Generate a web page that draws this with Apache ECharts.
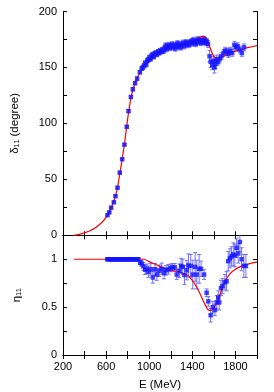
<!DOCTYPE html>
<html><head><meta charset="utf-8">
<script src="https://cdn.jsdelivr.net/npm/echarts@6/dist/echarts.min.js"></script>
<style>html,body{margin:0;padding:0;background:#fff}#c{width:274px;height:392px}</style>
</head><body><div id="c"></div>
<script>
// ---- data ----
const deltaE = [613,629,647,672,687,706,727,749,770,792,808,830,848,869,888,913,930,941,952,962,972,982,992,1002,1012,1022,1032,1042,1052,1062,1072,1082,1092,1102,1112,1122,1132,1142,1152,1162,1172,1182,1192,1202,1212,1222,1232,1242,1252,1262,1272,1282,1292,1302,1312,1322,1332,1342,1352,1362,1372,1382,1392,1402,1412,1422,1432,1442,1452,1462,1472,1482,1492,1502,1512,1522,1532,1545,1560,1570,1585,1595,1605,1615,1625,1640,1655,1670,1690,1705,1720,1735,1750,1770,1790,1805,1820,1840,1860,1880];
const deltaVal = [18,20.5,24.7,29.5,35,42.5,56,68,81,97,111,123.6,130.5,136,140,145.7,149,150,151.5,154,152.5,156,157,159,157.5,160.5,161.5,159.5,162.5,163,161.5,164,163,165,164,166,164.5,167,169.5,166.5,168.5,170,167.5,169,170.5,168,170,167,169.5,171.5,168.5,170.5,168,170,172,169,171,172.5,170,171.5,170.5,172.5,173.5,171.5,174.5,172.5,171,173.5,175,172.5,174,172,174.5,173,175,172,173.5,171,160,155,152,156,150,153,157,155,158,160,163,165,164,162,165,163,170,168,169,166,163,168];
const deltaErr = [0.8,0.8,0.8,0.8,0.8,0.8,0.8,0.8,0.8,1,1.2,1.2,1.5,1.5,1.5,1.5,1.5,2,2,2,2,2,2,2,2,2,2,2,2,2,2,2,2,2,2,2,2,2.5,2.5,2.5,2.5,2.5,2.5,2.5,2.5,2.5,2.5,2.5,2.5,2.5,2.5,2.5,2.5,2.5,2.5,2.5,2.5,2.5,2.5,2.5,2.5,2.5,2.5,2.5,2.5,2.5,2.5,2.5,2.5,2.5,2.5,2.5,2.5,2.5,2.5,2.5,2.5,3,5,5,4,4,5,4,4,3,3,3,3,3,3,3,3,3,3,3,3,3,3,3];

const etaE = [610,620,630,640,650,660,670,680,690,700,710,720,730,740,750,760,770,780,790,800,810,820,830,840,850,860,870,880,890,900,916,929,946,962,977,993,1015,1033,1054,1070,1094,1116,1138,1157,1178,1200,1218,1237,1255,1280,1296,1311,1327,1349,1364,1385,1404,1426,1441,1463,1481,1509,1533,1548,1570,1589,1610,1626,1641,1650,1666,1681,1703,1718,1733,1749,1764,1780,1795,1811,1826,1841,1857,1878,1897];
const etaVal = [1,1,1,1,1,1,1,1,1,1,1,1,1,1,1,1,1,1,1,1,1,1,1,1,1,1,1,1,1,1,0.965,0.955,0.925,0.89,0.9,0.87,0.895,0.81,0.895,0.84,0.88,0.9,0.855,0.885,0.895,0.91,0.915,0.915,0.84,0.88,0.93,0.92,0.835,0.885,0.935,0.93,0.84,0.92,0.84,0.9,0.9,0.84,0.65,0.56,0.415,0.5,0.47,0.55,0.6,0.55,0.7,0.72,0.76,0.77,0.98,1.01,1.03,1.05,1.04,1.12,1.06,1.18,1.0,0.93,0.93];
const etaErr = [0,0,0,0,0,0,0,0,0,0,0,0,0,0,0,0,0,0,0,0,0,0,0,0,0,0,0,0,0,0,0.02,0.03,0.04,0.05,0.05,0.06,0.06,0.06,0.06,0.06,0.06,0.06,0.06,0.05,0.05,0.04,0.04,0.04,0.05,0.07,0.08,0.08,0.1,0.1,0.12,0.12,0.15,0.15,0.15,0.15,0.08,0.05,0.04,0.05,0.07,0.06,0.06,0.07,0.07,0.08,0.08,0.08,0.08,0.1,0.1,0.1,0.1,0.12,0.12,0.1,0.1,0.1,0.12,0.12,0.12];

const fitE = [300,350,400,450,500,550,600,650,700,725,750,775,800,825,850,875,900,950,1000,1050,1100,1150,1200,1250,1300,1350,1400,1450,1480,1500,1520,1540,1560,1580,1600,1620,1650,1700,1750,1800,1850,1900,1950,2000];
const deltaFit = [0,0.8,2.3,4,6.7,10.5,16,25,40,54,68.5,85,104,120,130.5,137.5,143,150.5,155.5,159.5,162.5,165,167,168.5,170,171.5,173.5,176,177.5,178,177,174,169,163.5,160,158.5,158.5,160.5,162.5,164.5,166,167.5,168.5,169.5];
const etaFitE = [300,900,950,1000,1050,1100,1150,1200,1250,1300,1350,1400,1450,1500,1530,1550,1570,1590,1620,1650,1700,1750,1800,1850,1900,1950,2000];
const etaFit = [1,1,1,0.975,0.95,0.925,0.9,0.885,0.875,0.86,0.835,0.78,0.69,0.57,0.5,0.47,0.465,0.48,0.53,0.61,0.76,0.85,0.895,0.925,0.945,0.96,0.97];

const xTicks = [200,600,1000,1400,1800];
const deltaTicks = [0,50,100,150,200];
const etaTicks = [0,0.5,1];

// ---- chart ----
const FONT = 'Liberation Sans, Arial, sans-serif';
const chart = echarts.init(document.getElementById('c'));
const zip = (a,b,c) => a.map((v,i)=> c ? [v,b[i],c[i]] : [v,b[i]]);
const axLine = {show:true, lineStyle:{color:'#000', width:1}};
const tick = {show:true, inside:true, length:4, lineStyle:{color:'#000'}};
function xa(grid, pos, labels){
  return {type:'value', gridIndex:grid, position:pos, min:200, max:2000, interval:200,
    axisLine:axLine, axisTick:tick, splitLine:{show:false},
    axisLabel:{show:labels, color:'#000', fontSize:11, fontFamily:FONT, margin:6,
      formatter:v=> xTicks.includes(v)? String(v):''},
    name: labels ? 'E (MeV)' : '', nameLocation:'middle', nameGap:24,
    nameTextStyle:{color:'#000', fontSize:11.5, fontFamily:FONT}};
}
function ya(grid, pos, min, max, itv, ticks, name, gap){
  return {type:'value', gridIndex:grid, position:pos, min:min, max:max, interval:itv,
    axisLine:axLine, axisTick:tick, splitLine:{show:false},
    axisLabel:{show:!!name, color:'#000', fontSize:11, fontFamily:FONT, margin:6,
      formatter:v=> ticks.some(t=>Math.abs(t-v)<1e-9)? String(v):''},
    name: name||'', nameLocation:'middle', nameGap: gap||0, nameRotate:90,
    nameTextStyle:{color:'#000', fontSize:11.5, fontFamily:FONT}};
}
function errBars(xi, yi, data){
  return {type:'custom', xAxisIndex:xi, yAxisIndex:yi, clip:true, z:2,
    renderItem:(params, api)=>{
      const x=api.value(0), y=api.value(1), e=api.value(2);
      if(!e) return null;
      const lo=api.coord([x,y-e]), hi=api.coord([x,y+e]);
      const st={stroke:'#7070ff', lineWidth:1};
      return {type:'group', children:[
        {type:'line', shape:{x1:lo[0],y1:lo[1],x2:hi[0],y2:hi[1]}, style:st},
        {type:'line', shape:{x1:lo[0]-2,y1:lo[1],x2:lo[0]+2,y2:lo[1]}, style:st},
        {type:'line', shape:{x1:hi[0]-2,y1:hi[1],x2:hi[0]+2,y2:hi[1]}, style:st}
      ]};
    },
    encode:{x:0, y:1}, data:data};
}
chart.setOption({
  animation:false,
  grid:[{left:63, right:17, top:11.5, height:223.8},
        {left:63, right:17, top:235.3, height:122}],
  xAxis:[xa(0,'bottom',false), xa(0,'top',false), xa(1,'bottom',true), xa(1,'top',false)],
  yAxis:[ya(0,'left',0,200,25,deltaTicks,'δ₁₁ (degree)',42), ya(0,'right',0,200,25,deltaTicks,null),
         ya(1,'left',0,1.25,0.25,etaTicks,'η₁₁',40), ya(1,'right',0,1.25,0.25,etaTicks,null)],
  series:[
    {type:'line', xAxisIndex:0, yAxisIndex:0, data:zip(fitE,deltaFit), smooth:0.3, showSymbol:false, z:3,
     lineStyle:{color:'#ff0000', width:1.2}},
    errBars(0,0,zip(deltaE,deltaVal,deltaErr)),
    {type:'scatter', xAxisIndex:0, yAxisIndex:0, data:zip(deltaE,deltaVal), symbol:'rect', symbolSize:4.5, z:4,
     itemStyle:{color:'#1414ff'}},
    {type:'line', xAxisIndex:2, yAxisIndex:2, data:zip(etaFitE,etaFit), smooth:0.3, showSymbol:false, z:3,
     lineStyle:{color:'#ff0000', width:1.2}},
    errBars(2,2,zip(etaE,etaVal,etaErr)),
    {type:'scatter', xAxisIndex:2, yAxisIndex:2, data:zip(etaE,etaVal), symbol:'rect', symbolSize:4.5, z:4,
     itemStyle:{color:'#1414ff'}}
  ]
});
</script></body></html>
